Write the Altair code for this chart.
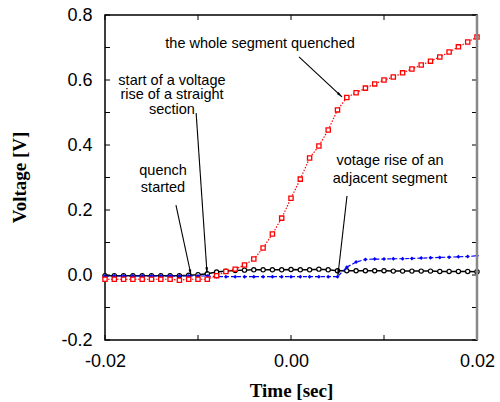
import math
import altair as alt
import pandas as pd

# Sample times [s]
time_s = [
    -0.020, -0.019, -0.018, -0.017, -0.016, -0.015, -0.014, -0.013, -0.012, -0.011,
    -0.010, -0.009, -0.008, -0.007, -0.006, -0.005, -0.004, -0.003, -0.002, -0.001,
    0.000, 0.001, 0.002, 0.003, 0.004, 0.005, 0.006, 0.007, 0.008, 0.009,
    0.010, 0.011, 0.012, 0.013, 0.014, 0.015, 0.016, 0.017, 0.018, 0.019, 0.020,
]

# Voltage of the quenching segment (red)
v_segment = [
    -0.013, -0.013, -0.013, -0.013, -0.013, -0.013, -0.013, -0.013, -0.016, -0.013,
    -0.013, -0.013, -0.002, 0.011, 0.018, 0.031, 0.049, 0.083, 0.126, 0.175,
    0.236, 0.295, 0.360, 0.397, 0.446, 0.508, 0.546, 0.561, 0.575, 0.588,
    0.600, 0.609, 0.622, 0.634, 0.646, 0.658, 0.671, 0.686, 0.702, 0.717, 0.732,
]

# Voltage of the straight section (black)
v_straight = [
    -0.002, -0.002, -0.002, -0.002, -0.002, -0.002, -0.002, -0.002, -0.002, -0.001,
    0.001, 0.004, 0.009, 0.012, 0.014, 0.015, 0.016, 0.016, 0.016, 0.016,
    0.017, 0.016, 0.016, 0.018, 0.016, 0.013, 0.013, 0.013, 0.013, 0.013,
    0.013, 0.012, 0.012, 0.012, 0.012, 0.012, 0.011, 0.011, 0.011, 0.011, 0.010,
]

# Voltage of the adjacent segment (blue)
v_adjacent = [
    -0.003, -0.003, -0.003, -0.003, -0.003, -0.003, -0.003, -0.003, -0.003, -0.003,
    -0.003, -0.003, -0.005, -0.005, -0.005, -0.005, -0.005, -0.005, -0.005, -0.005,
    -0.005, -0.005, -0.005, -0.005, -0.005, -0.005, 0.024, 0.040, 0.048, 0.049,
    0.049, 0.050, 0.050, 0.051, 0.052, 0.053, 0.054, 0.055, 0.056, 0.057, 0.059,
]

x_ticks = [-0.02, -0.01, 0.0, 0.01, 0.02]
y_ticks = [-0.2, -0.1, 0.0, 0.1, 0.2, 0.3, 0.4, 0.5, 0.6, 0.7, 0.8]
x_labels = [-0.02, 0.0, 0.02]
y_labels = [-0.2, 0.0, 0.2, 0.4, 0.6, 0.8]

# Annotations: text, text anchor (t, V), arrow tail and head (t, V), line height
notes = [
    ("the whole segment quenched", -0.00333, 0.698, 0.00086, 0.671, 0.00548, 0.548, 15),
    ("start of a voltage\nrise of a straight\nsection", -0.0128, 0.585, -0.0102, 0.498, -0.00903, 0.006, 14.5),
    ("quench\nstarted", -0.01376, 0.308, -0.01237, 0.215, -0.01075, 0.0, 17.5),
    ("votage rise of an\nadjacent segment", 0.01065, 0.338, 0.00602, 0.243, 0.00505, 0.0, 18),
]

W, H = 372, 325
X_DOM = [-0.02, 0.02]
Y_DOM = [-0.2, 0.8]
SANS = "Liberation Sans"
SERIF = "Liberation Serif"

xs = alt.Scale(domain=X_DOM, nice=False, zero=False)
ys = alt.Scale(domain=Y_DOM, nice=False, zero=False)

x_axis = alt.Axis(
    values=x_labels, labelExpr="replace(format(datum.value, '.2f'), '\u2212', '-')",
    labelFont=SANS, labelFontSize=18, labelColor="black", labelPadding=12,
    labelFlush=False, labelOverlap=False,
    ticks=False, domain=False, grid=False,
    title="Time [sec]", titleFont=SERIF, titleFontSize=19, titleFontWeight="bold",
    titleColor="black", titleBaseline="alphabetic", titleY=56,
)
y_axis = alt.Axis(
    values=y_labels, labelExpr="replace(format(datum.value, '.1f'), '\u2212', '-')",
    labelFont=SANS, labelFontSize=18, labelColor="black", labelPadding=13,
    labelFlush=False, labelOverlap=False,
    ticks=False, domain=False, grid=False,
    title="Voltage [V]", titleFont=SERIF, titleFontSize=19, titleFontWeight="bold",
    titleColor="black", titleAngle=270, titleBaseline="alphabetic", titleX=-80, titleY=162,
)


def series_df(vals):
    return pd.DataFrame({"t": time_s, "v": vals})


def xenc(field="t"):
    return alt.X(f"{field}:Q", scale=xs, axis=x_axis)


def yenc(field="v"):
    return alt.Y(f"{field}:Q", scale=ys, axis=y_axis)


# Data series
black = alt.Chart(series_df(v_straight)).mark_line(
    color="black", strokeWidth=1.5,
    point=alt.OverlayMarkDef(shape="circle", filled=False, stroke="black", strokeWidth=1.2, size=18, fill="white"),
).encode(x=xenc(), y=yenc())

blue = alt.Chart(series_df(v_adjacent)).mark_line(
    color="#0000ff", strokeWidth=1.2, strokeDash=[4, 2],
    point=alt.OverlayMarkDef(shape="diamond", filled=True, color="#0000ff", size=16),
).encode(x=xenc(), y=yenc())

red = alt.Chart(series_df(v_segment)).mark_line(
    color="#ff0000", strokeWidth=1.2, strokeDash=[1.5, 1.5],
    point=alt.OverlayMarkDef(shape="square", filled=False, stroke="#ff0000", strokeWidth=1.3, size=18, fill="white"),
).encode(x=xenc(), y=yenc())

# Inward ticks on all four sides
xt = pd.DataFrame({"t": x_ticks})
yt = pd.DataFrame({"v": y_ticks})
tick_style = dict(color="black", strokeWidth=1)
ticks_bottom = alt.Chart(xt).mark_rule(**tick_style).encode(x=xenc(), y=alt.value(H), y2=alt.value(H - 5))
ticks_top = alt.Chart(xt).mark_rule(**tick_style).encode(x=xenc(), y=alt.value(0), y2=alt.value(5))
ticks_left = alt.Chart(yt).mark_rule(**tick_style).encode(y=yenc(), x=alt.value(0), x2=alt.value(5))
ticks_right = alt.Chart(yt).mark_rule(**tick_style).encode(y=yenc(), x=alt.value(W), x2=alt.value(W - 5))

# Right frame edge drawn in grey
right_edge = alt.Chart(pd.DataFrame({"t": [X_DOM[1]]})).mark_rule(color="#888888", strokeWidth=2.5).encode(
    x=xenc(), y=alt.value(0), y2=alt.value(H)
)

# Annotation arrows
rows = []
for text, lx, ly, tx, ty, hx, hy, lh in notes:
    dx = (hx - tx) / (X_DOM[1] - X_DOM[0]) * W
    dy = -(hy - ty) / (Y_DOM[1] - Y_DOM[0]) * H
    ang = math.degrees(math.atan2(dx, -dy)) % 360
    rows.append({"tx": tx, "ty": ty, "hx": hx, "hy": hy, "ang": ang})
arrows_df = pd.DataFrame(rows)

shafts = alt.Chart(arrows_df).mark_rule(color="black", strokeWidth=1.1).encode(
    x=xenc("tx"), y=yenc("ty"), x2="hx:Q", y2="hy:Q"
)
heads = alt.Chart(arrows_df).mark_point(
    shape="M 0 0 L -0.45 1.9 L 0.45 1.9 Z", filled=True, color="black", size=36, opacity=1
).encode(x=xenc("hx"), y=yenc("hy"), angle=alt.Angle("ang:Q", scale=None))

labels = []
for text, lx, ly, tx, ty, hx, hy, lh in notes:
    labels.append(
        alt.Chart(pd.DataFrame({"t": [lx], "v": [ly], "txt": [text]})).mark_text(
            font=SANS, fontSize=14.5, color="black", align="center", baseline="alphabetic",
            lineBreak="\n", lineHeight=lh,
        ).encode(x=xenc(), y=yenc(), text="txt:N")
    )

chart = alt.layer(
    black, blue, red, ticks_bottom, ticks_top, ticks_left, ticks_right, right_edge,
    shafts, heads, *labels,
).properties(
    width=W, height=H,
    background="white",
    autosize=alt.AutoSizeParams(type="none"),
    padding={"left": 105, "top": 15, "right": 23, "bottom": 62},
).configure_view(
    stroke="black", strokeWidth=1.5
)

chart.save("out.html", embed_options={"renderer": "svg", "actions": False})
